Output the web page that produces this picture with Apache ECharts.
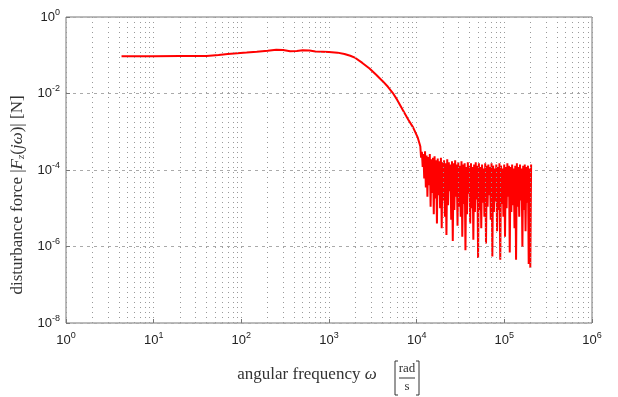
<!DOCTYPE html>
<html>
<head>
<meta charset="utf-8">
<script src="https://cdn.jsdelivr.net/npm/echarts@6/dist/echarts.min.js"></script>
<style>
  html, body { margin: 0; padding: 0; background: #fff; }
  #container { width: 618px; height: 397px; }
</style>
</head>
<body>
<div id="container"></div>
<script>
// smooth part of the spectrum (rad/s, N)
var omegaSmooth = [4.3, 6, 10, 20, 40, 55, 70, 90, 115, 150, 200, 250, 300, 360, 430, 500, 600, 700, 850, 1000,
  1250, 1500, 1750, 2000, 2400, 2900, 3500, 4100, 4700, 5350, 6000, 6950, 8000, 9100, 10300];
var forceSmooth = [0.094, 0.094, 0.094, 0.095, 0.096, 0.102, 0.108, 0.113, 0.118, 0.124, 0.132, 0.14, 0.138, 0.128, 0.13, 0.136, 0.133, 0.125, 0.124, 0.122,
  0.117, 0.108, 0.097, 0.085, 0.063, 0.045, 0.03, 0.021, 0.015, 0.0103, 0.0068, 0.0037, 0.0021, 0.0013, 0.0007];

// noisy high frequency part
var omegaNoise = [11000, 11230, 11470, 11710, 11950, 12200, 12460, 12720, 12990, 13260,
  13540, 13830, 14120, 14420, 14720, 15030, 15350, 15670, 16000, 16340,
  16680, 17030, 17390, 17760, 18130, 18510, 18900, 19300, 19700, 20120,
  20540, 20970, 21410, 21860, 22320, 22790, 23270, 23760, 24260, 24770,
  25290, 25820, 26360, 26910, 27480, 28060, 28650, 29250, 29860, 30490,
  31130, 31790, 32460, 33140, 33840, 34550, 35270, 36010, 36770, 37540,
  38330, 39130, 39950, 40790, 41650, 42520, 43410, 44320, 45250, 46200,
  47170, 48160, 49170, 50200, 51250, 52330, 53430, 54550, 55700, 56870,
  58060, 59280, 60530, 61800, 63100, 64420, 65770, 67150, 68560, 70000,
  71470, 72970, 74500, 76070, 77670, 79300, 80970, 82670, 84410, 86180,
  87990, 89840, 91730, 93660, 95630, 97640, 99690, 101800, 103900, 106100,
  108300, 110600, 112900, 115300, 117700, 120200, 122700, 125300, 127900, 130600,
  133300, 136100, 139000, 141900, 144900, 147900, 151000, 154200, 157400, 160700,
  164100, 167500, 171000, 174600, 178300, 182000, 185800, 189700, 193700, 197800,
  202000];
var forceNoise = [4.2e-4, 2.1e-4, 3.0e-4, 1.2e-4, 2.6e-4, 6e-5, 3.1e-4, 3.5e-5, 2.4e-4, 2.0e-5,
  2.2e-4, 4.0e-5, 2.6e-4, 1.1e-5, 1.9e-4, 2.5e-5, 2.1e-4, 7e-6, 2.3e-4, 1.8e-5,
  1.8e-4, 4e-6, 2.0e-4, 2.2e-5, 1.7e-4, 1.0e-5, 2.1e-4, 3.0e-6, 1.6e-4, 1.6e-5,
  1.8e-4, 6e-6, 1.5e-4, 2.0e-6, 1.9e-4, 1.2e-5, 1.6e-4, 2.8e-5, 1.4e-4, 5e-6,
  1.7e-4, 1.4e-6, 1.5e-4, 9e-6, 1.8e-4, 2.0e-5, 1.4e-4, 3.5e-6, 1.6e-4, 1.1e-5,
  1.3e-4, 6e-6, 1.7e-4, 1.8e-6, 1.4e-4, 1.3e-5, 1.5e-4, 8e-7, 1.2e-4, 7e-6,
  1.6e-4, 2.4e-5, 1.3e-4, 4e-6, 1.5e-4, 1.0e-5, 1.2e-4, 1.5e-6, 1.4e-4, 8e-6,
  1.6e-4, 1.7e-5, 1.3e-4, 5e-7, 1.5e-4, 9e-6, 1.2e-4, 3e-6, 1.4e-4, 1.4e-5,
  1.1e-4, 6e-6, 1.5e-4, 1.2e-6, 1.3e-4, 1.1e-5, 1.4e-4, 2.2e-5, 1.2e-4, 5e-6,
  1.5e-4, 5.5e-7, 1.3e-4, 8e-6, 1.1e-4, 1.5e-5, 1.4e-4, 2.5e-6, 1.2e-4, 9e-6,
  1.5e-4, 4.5e-7, 1.3e-4, 1.3e-5, 1.1e-4, 6e-6, 1.4e-4, 1.8e-6, 1.2e-4, 1.0e-5,
  1.5e-4, 2.0e-5, 1.3e-4, 7e-7, 1.2e-4, 8e-6, 1.4e-4, 1.2e-5, 1.1e-4, 3e-6,
  1.3e-4, 4.5e-7, 1.5e-4, 1.1e-5, 1.2e-4, 6e-6, 1.4e-4, 1.6e-5, 1.1e-4, 1.0e-6,
  1.3e-4, 9e-6, 1.4e-4, 2.5e-6, 1.2e-4, 1.4e-5, 1.3e-4, 3.5e-7, 1.1e-4, 2.8e-7,
  1.4e-4];

// axes
var xMin = 1, xMax = 1e6;
var yMin = 1e-8, yMax = 1;
var minorMultipliers = [2, 3, 4, 5, 6, 7, 8, 9];
var decades = [1, 10, 100, 1000, 10000, 100000];

var omega = omegaSmooth.concat(omegaNoise);
var force = forceSmooth.concat(forceNoise);
var curve = omega.map(function (w, i) { return [w, force[i]]; });

var minorLines = [];
decades.forEach(function (d) {
  minorMultipliers.forEach(function (m) { minorLines.push({ xAxis: d * m }); });
});

function powLabel(v) {
  var e = Math.round(Math.log10(v));
  return '{b|10}{e|' + e + '}';
}

var labelRich = {
  b: { fontSize: 13, lineHeight: 18, color: '#222', fontFamily: 'Liberation Sans' },
  e: { fontSize: 9, lineHeight: 10, verticalAlign: 'top', color: '#222', fontFamily: 'Liberation Sans' }
};

var serif = 'Liberation Serif';

var dom = document.getElementById('container');
var myChart = echarts.init(dom);

var option = {
  backgroundColor: '#fff',
  animation: false,
  grid: {
    left: 66, right: 26, top: 17, bottom: 74,
    show: true, borderColor: '#777', borderWidth: 1, backgroundColor: '#fff'
  },
  xAxis: {
    type: 'log',
    logBase: 10,
    min: xMin,
    max: xMax,
    axisLine: { show: false },
    axisTick: { inside: true, length: 4, lineStyle: { color: '#777' } },
    axisLabel: { formatter: powLabel, rich: labelRich, margin: 8 },
    splitLine: { show: true, lineStyle: { color: '#999', type: [1, 4], width: 1 } },
    name: 'angular frequency {i|ω}',
    nameLocation: 'middle',
    nameGap: 43,
    nameTextStyle: {
      fontFamily: serif, fontSize: 17, color: '#333', padding: [0, 44, 0, 0],
      rich: { i: { fontFamily: serif, fontStyle: 'italic', fontSize: 17, color: '#333' } }
    }
  },
  yAxis: {
    type: 'log',
    logBase: 10,
    min: yMin,
    max: yMax,
    interval: 2,
    splitNumber: 4,
    axisLine: { show: false },
    axisTick: { inside: true, length: 4, lineStyle: { color: '#777' } },
    axisLabel: { formatter: powLabel, rich: labelRich, margin: 6 },
    splitLine: { show: true, lineStyle: { color: '#aaa', type: [3, 4], width: 1 } },
    name: 'disturbance force |{i|F}{s|z}({i|jω})| [N]',
    nameLocation: 'middle',
    nameGap: 37,
    nameTextStyle: {
      fontFamily: serif, fontSize: 17, color: '#333', padding: [0, 50, 0, 0],
      rich: {
        i: { fontFamily: serif, fontStyle: 'italic', fontSize: 17, color: '#333' },
        s: { fontFamily: serif, fontStyle: 'italic', fontSize: 11, color: '#333', padding: [7, 0, 0, 0] }
      }
    }
  },
  graphic: [
    { type: 'polyline', shape: { points: [[398, 361], [395, 361], [395, 395], [398, 395]] }, style: { stroke: '#333', fill: null, lineWidth: 1 } },
    { type: 'polyline', shape: { points: [[416, 361], [419, 361], [419, 395], [416, 395]] }, style: { stroke: '#333', fill: null, lineWidth: 1 } },
    { type: 'line', shape: { x1: 399, y1: 378, x2: 415, y2: 378 }, style: { stroke: '#333', lineWidth: 1 } },
    { type: 'text', x: 407, y: 369, style: { text: 'rad', fontFamily: serif, fontSize: 13, fill: '#333', textAlign: 'center', textVerticalAlign: 'middle' } },
    { type: 'text', x: 407, y: 387, style: { text: 's', fontFamily: serif, fontSize: 13, fill: '#333', textAlign: 'center', textVerticalAlign: 'middle' } }
  ],
  series: [
    {
      type: 'line',
      data: [],
      z: 1,
      silent: true,
      markLine: {
        silent: true,
        symbol: 'none',
        label: { show: false },
        lineStyle: { color: '#999', type: [1, 4], width: 1 },
        data: minorLines
      }
    },
    {
      name: 'force',
      type: 'line',
      z: 3,
      data: curve,
      showSymbol: false,
      sampling: null,
      lineStyle: { color: '#ff0000', width: 2 },
      itemStyle: { color: '#ff0000' }
    }
  ]
};

if (option && typeof option === 'object') {
  myChart.setOption(option);
}
</script>
</body>
</html>
